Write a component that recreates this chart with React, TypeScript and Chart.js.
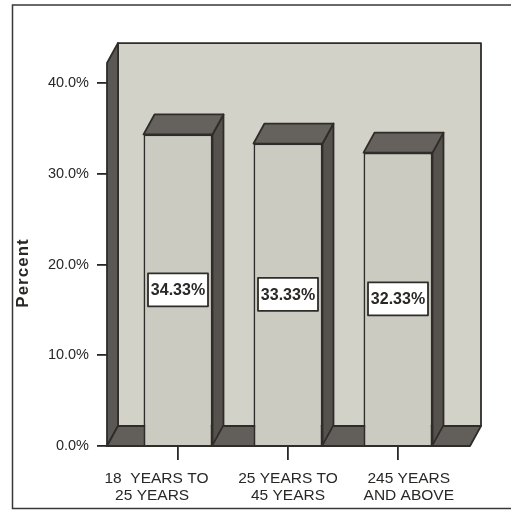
import { useEffect, useRef } from 'react';
import { Chart, registerables } from 'chart.js';

Chart.register(...registerables);

// Age groups on the category axis (two lines each; the padding spaces
// keep each label where the survey layout placed it)
const categories: string[][] = [
  ['18  YEARS TO          ', '25 YEARS            '],
  ['25 YEARS TO', '45 YEARS'],
  ['     245 YEARS', '     AND ABOVE'],
];
// Share of respondents per age group, in percent
const percentValues: number[] = [34.33, 33.33, 32.33];
// Value-axis ticks
const yTickValues: number[] = [0, 10, 20, 30, 40];
const axisTitle = 'Percent';
// Height of the back and side walls of the 3D box, in axis units
const wallTopValue = 42.2;

const FONT = 'Arial, "Liberation Sans", Helvetica, sans-serif';
const INK = '#2a2826';
const EDGE = '#2f2c29';
const WALL_FILL = '#d2d2c9';
const SIDE_WALL_FILL = '#5a5754';
const FLOOR_FILL = '#625e5a';
const BAR_FRONT = '#cbcbc2';
const BAR_SIDE = '#55514c';
const BAR_TOP = '#65615c';
const DEPTH_X = 11;
const DEPTH_Y = -20;

type Pt = [number, number];

function poly(ctx: CanvasRenderingContext2D, pts: Pt[], fill: string) {
  ctx.beginPath();
  ctx.moveTo(pts[0][0], pts[0][1]);
  for (let i = 1; i < pts.length; i++) ctx.lineTo(pts[i][0], pts[i][1]);
  ctx.closePath();
  ctx.fillStyle = fill;
  ctx.fill();
  ctx.strokeStyle = EDGE;
  ctx.lineWidth = 1.8;
  ctx.lineJoin = 'round';
  ctx.stroke();
}

const box3d = {
  id: 'box3d',
  beforeDraw(chart: any) {
    const { ctx, width, height } = chart;
    ctx.save();
    ctx.fillStyle = '#ffffff';
    ctx.fillRect(0, 0, width, height);
    // outer frame; its right side runs past the canvas edge
    ctx.strokeStyle = '#3a3836';
    ctx.lineWidth = 1.5;
    ctx.strokeRect(12.5, 5, width + 10, height - 8.5);
    ctx.restore();
  },
  beforeDatasetsDraw(chart: any) {
    const { ctx, chartArea } = chart;
    const y = chart.scales.y;
    const L = chartArea.left - 16;
    const R = chartArea.right + 17;
    const B = y.getPixelForValue(0);
    const T = y.getPixelForValue(wallTopValue);
    ctx.save();
    // back wall
    poly(ctx, [[L + DEPTH_X, T + DEPTH_Y], [R + DEPTH_X, T + DEPTH_Y], [R + DEPTH_X, B + DEPTH_Y], [L + DEPTH_X, B + DEPTH_Y]], WALL_FILL);
    // left side wall
    poly(ctx, [[L, T], [L + DEPTH_X, T + DEPTH_Y], [L + DEPTH_X, B + DEPTH_Y], [L, B]], SIDE_WALL_FILL);
    // floor
    poly(ctx, [[L, B], [R, B], [R + DEPTH_X, B + DEPTH_Y], [L + DEPTH_X, B + DEPTH_Y]], FLOOR_FILL);
    ctx.restore();
  },
  afterDatasetsDraw(chart: any) {
    const { ctx } = chart;
    const meta = chart.getDatasetMeta(0);
    const values = chart.data.datasets[0].data as number[];
    ctx.save();
    meta.data.forEach((bar: any, i: number) => {
      const { x, y, base, width } = bar.getProps(['x', 'y', 'base', 'width'], true);
      const l = x - width / 2;
      const r = x + width / 2;
      // right side face
      poly(ctx, [[r, y], [r + DEPTH_X, y + DEPTH_Y], [r + DEPTH_X, base + DEPTH_Y], [r, base]], BAR_SIDE);
      // top face
      poly(ctx, [[l, y], [l + DEPTH_X, y + DEPTH_Y], [r + DEPTH_X, y + DEPTH_Y], [r, y]], BAR_TOP);

      // value label box in the middle of the front face
      const cy = (y + base) / 2;
      const bw = 60;
      const bh = 33;
      ctx.fillStyle = '#ffffff';
      ctx.fillRect(x - bw / 2, cy - bh / 2, bw, bh);
      ctx.strokeStyle = EDGE;
      ctx.lineWidth = 1.8;
      ctx.strokeRect(x - bw / 2, cy - bh / 2, bw, bh);
      ctx.fillStyle = INK;
      ctx.font = `bold 16px ${FONT}`;
      ctx.textAlign = 'center';
      ctx.textBaseline = 'middle';
      ctx.fillText(values[i].toFixed(2) + '%', x, cy + 1);
    });
    ctx.restore();
  },
  afterDraw(chart: any) {
    // rotated value-axis title
    const { ctx } = chart;
    ctx.save();
    ctx.translate(23, 273);
    ctx.rotate(-Math.PI / 2);
    ctx.fillStyle = INK;
    ctx.font = `bold 17px ${FONT}`;
    (ctx as any).letterSpacing = '1px';
    ctx.textAlign = 'center';
    ctx.textBaseline = 'middle';
    ctx.fillText(axisTitle, 0, 0);
    ctx.restore();
  },
};

export default function App() {
  const canvasRef = useRef<HTMLCanvasElement | null>(null);

  useEffect(() => {
    if (!canvasRef.current) return;
    Chart.defaults.font.family = FONT;
    const chart = new Chart(canvasRef.current, {
      type: 'bar',
      data: {
        labels: categories,
        datasets: [
          {
            data: percentValues,
            backgroundColor: BAR_FRONT,
            borderColor: EDGE,
            borderWidth: 1.8,
            categoryPercentage: 1,
            barPercentage: 0.627,
          },
        ],
      },
      options: {
        animation: false,
        responsive: false,
        devicePixelRatio: 1,
        layout: { padding: { left: 0, right: 58, top: 83, bottom: 0 } },
        plugins: {
          legend: { display: false },
          tooltip: { enabled: false },
        },
        scales: {
          x: {
            offset: true,
            border: { display: false },
            grid: {
              offset: false,
              drawOnChartArea: false,
              drawTicks: true,
              tickLength: 14,
              color: INK,
              lineWidth: 1.8,
            },
            ticks: {
              color: INK,
              font: { size: 15.5, lineHeight: 1.1 },
              padding: 10,
              maxRotation: 0,
              autoSkip: false,
            },
            afterFit: (scale: any) => {
              scale.height = 66;
            },
          },
          y: {
            min: 0,
            max: 40,
            border: { display: false },
            grid: {
              drawOnChartArea: false,
              drawTicks: true,
              tickLength: 26,
              color: INK,
              lineWidth: 1.8,
            },
            afterBuildTicks: (scale: any) => {
              scale.ticks = yTickValues.map((v) => ({ value: v }));
            },
            ticks: {
              color: INK,
              font: { size: 14.5 },
              padding: 8,
              callback: (v: any) => Number(v).toFixed(1) + '%',
            },
            afterFit: (scale: any) => {
              scale.width = 123;
            },
          },
        },
      },
      plugins: [box3d],
    });
    return () => chart.destroy();
  }, []);

  return (
    <div style={{ position: 'absolute', left: 0, top: 0, width: 511, height: 512 }}>
      <canvas ref={canvasRef} width={511} height={512} style={{ width: 511, height: 512, display: 'block' }} />
    </div>
  );
}
